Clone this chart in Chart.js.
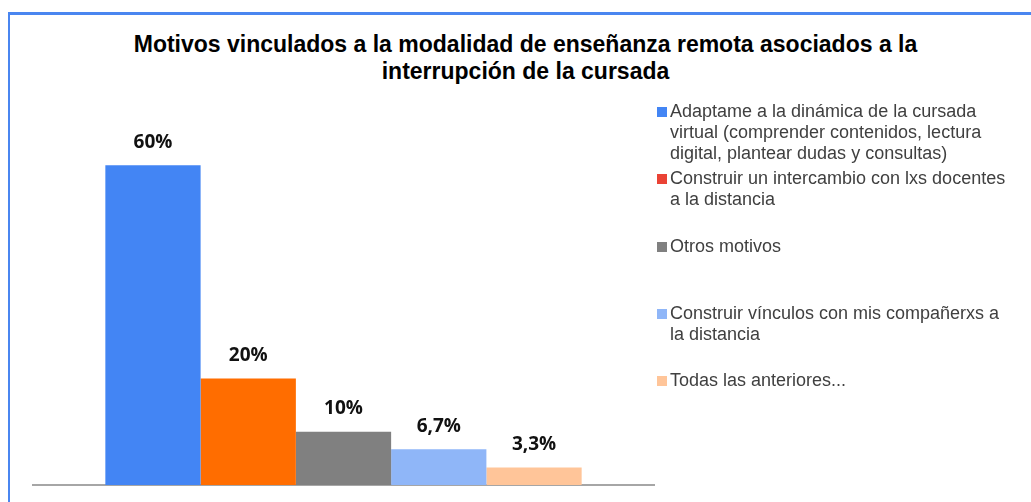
<!DOCTYPE html>
<html>
<head>
<meta charset="utf-8">
<script src="https://cdn.jsdelivr.net/npm/chart.js@4.4.0/dist/chart.umd.min.js"></script>
<style>
  html, body { margin: 0; padding: 0; background: #fff; }
  #wrap { position: relative; width: 1031px; height: 502px; overflow: hidden; }
  #frame { position: absolute; left: 8px; top: 12px; width: 1100px; height: 600px;
           border-left: 2px solid #4a86f0; border-top: 3px solid #4a86f0; box-sizing: border-box; }
  #title { position: absolute; left: 10px; width: 1031px; top: 31px; text-align: center;
           font: bold 23px "Liberation Sans", Arial, sans-serif; line-height: 27px; color: #000; }
  #chartBox { position: absolute; left: 0; top: 0; width: 1031px; height: 502px; }
  #legend { position: absolute; left: 657px; top: 101px; width: 374px;
            font: 18px "Liberation Sans", Arial, sans-serif; color: #404040; line-height: 21px; }
  .item { position: relative; height: 67.3px; padding-left: 13px; white-space: nowrap; }
  .sw { position: absolute; left: 0; top: 6px; width: 10px; height: 10px; }
</style>
</head>
<body>
<div id="wrap">
  <div id="frame"></div>
  <div id="title">Motivos vinculados a la modalidad de enseñanza remota asociados a la<br>interrupción de la cursada</div>
  <div id="chartBox"><canvas id="motivosChart" width="1031" height="502"></canvas></div>
  <div id="legend"></div>
</div>
<script>
// Data
const motivos = [
    ['Adaptame a la dinámica de la cursada', 'virtual (comprender contenidos, lectura', 'digital, plantear dudas y consultas)'],
    ['Construir un intercambio con lxs docentes', 'a la distancia'],
    ['Otros motivos'],
    ['Construir vínculos con mis compañerxs a', 'la distancia'],
    ['Todas las anteriores...']
];
const porcentajes = [60, 20, 10, 6.7, 3.3];
const etiquetas = ['60%', '20%', '10%', '6,7%', '3,3%'];
const barColors = ['#4385f4', '#ff6d00', '#808080', '#8fb6f8', '#ffc599'];
const legendColors = ['#4385f4', '#ea4335', '#808080', '#8fb6f8', '#ffc599'];

// one dataset per motivo so bars sit side by side like the original
let datasets = motivos.map(function(m, i) {
    return {
        label: m.join(' '),
        data: [porcentajes[i]],
        backgroundColor: barColors[i],
        borderWidth: 0
    };
});

// value labels above each bar
const valueLabels = {
    id: 'valueLabels',
    afterDatasetsDraw(chart) {
        let ctx = chart.ctx;
        ctx.save();
        ctx.font = 'bold 19px "Open Sans", sans-serif';
        ctx.fillStyle = '#111';
        ctx.textAlign = 'center';
        ctx.textBaseline = 'middle';
        chart.data.datasets.forEach(function(ds, i) {
            let bar = chart.getDatasetMeta(i).data[0];
            ctx.fillText(etiquetas[i], bar.x, bar.y - 23);
        });
        ctx.restore();
    }
};

let ctx = document.getElementById('motivosChart').getContext('2d');
let motivosChart = new Chart(ctx, {
    type: 'bar',
    data: { labels: [''], datasets: datasets },
    options: {
        responsive: false,
        animation: false,
        layout: { padding: { left: 33, right: 377, top: 112, bottom: 9 } },
        plugins: { legend: { display: false }, title: { display: false }, tooltip: { enabled: false } },
        datasets: { bar: { categoryPercentage: 0.767, barPercentage: 1 } },
        scales: {
            x: {
                grid: { display: false },
                ticks: { display: false },
                border: { display: true, color: '#a6a6a6', width: 2 }
            },
            y: {
                display: false,
                min: 0,
                max: 70
            }
        }
    },
    plugins: [valueLabels]
});

// legend as html, built from the same arrays
let legendBox = document.getElementById('legend');
motivos.forEach(function(m, i) {
    let item = document.createElement('div');
    item.className = 'item';
    item.innerHTML = '<span class="sw" style="background:' + legendColors[i] + '"></span>' + m.join('<br>');
    legendBox.appendChild(item);
});
</script>
</body>
</html>
